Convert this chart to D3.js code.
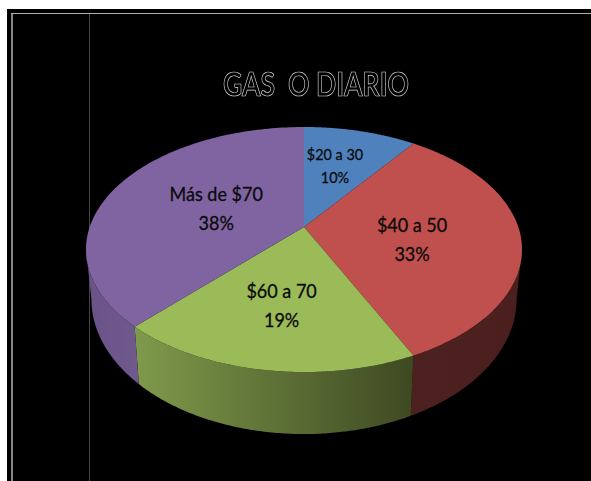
<!DOCTYPE html>
<html><head><meta charset="utf-8">
<script src="https://cdnjs.cloudflare.com/ajax/libs/d3/7.8.5/d3.min.js"></script>
<style>html,body{margin:0;padding:0;background:#fff}svg{display:block}</style>
</head><body><svg id="c" width="591" height="481"></svg>
<script>
const categories = ["$20 a 30", "$40 a 50", "$60 a 70", "Más de $70"];
const values = [10, 33, 19, 38];
const percentLabels = ["10%", "33%", "19%", "38%"];
const title = "GAS\u00A0\u00A0O DIARIO";
const topColors = ["#4f81bd", "#c0504d", "#9bbb59", "#8064a2"];
const sideFrom = ["#3f6690", "#4d2120", "#7f9a4b", "#6a5288"];
const sideTo = ["#3f6690", "#4b1f1e", "#3e4922", "#705a8c"];
const labelRadius = [0.59, 0.505, 0.596, 0.454];
const labelTurn = [-2.3, 6, 0, 0];
const labelSize = [16, 20, 20, 20];
const labelLeading = [23, 29, 29, 29];

const svg = d3.select("#c");
const cx = 304, cy = 227, a = 214.3, b = 118.4, k = 0.1837;
const baseCy = 274.5, baseX = 0.975, baseY = 1.1;

const project = (t, r = 1, base = false) => {
  const X = r * Math.sin(t), Y = -r * Math.cos(t), w = 1 - k * Y;
  return base ? [cx + baseX * a * X / w, baseCy + baseY * b * Y / w]
              : [cx + a * X / w, cy + b * Y / w];
};
const arcPts = (t0, t1, base = false) => d3.range(0, 121).map(i => project(t0 + (t1 - t0) * i / 120, 1, base));
const line = d3.line();

svg.append("rect").attr("x", 7).attr("y", 9).attr("width", 584).attr("height", 472).attr("fill", "#000");
svg.append("rect").attr("x", 11).attr("y", 13).attr("width", 2).attr("height", 468).attr("fill", "#858585");
svg.append("rect").attr("x", 11).attr("y", 13).attr("width", 580).attr("height", 1).attr("fill", "#b0b0b0");
svg.append("rect").attr("x", 89).attr("y", 14).attr("width", 1).attr("height", 467).attr("fill", "#444");

const arcs = d3.pie().sort(null).value(d => d)(values);
const edge = Math.asin(Math.sqrt(1 - k * k));
const rightEdge = Math.PI - edge;
const defs = svg.append("defs");
defs.append("filter").attr("id", "gray").attr("x", "-5%").attr("y", "-20%").attr("width", "110%").attr("height", "140%")
  .append("feColorMatrix").attr("type", "saturate").attr("values", 0);

arcs.forEach((d, i) => {
  const t0 = Math.max(d.startAngle, rightEdge), t1 = Math.min(d.endAngle, Math.PI + edge);
  if (t1 <= t0) return;
  const upper = arcPts(t0, t1), lower = arcPts(t0, t1, true).reverse();
  const xs = upper.concat(lower).map(p => p[0]);
  const g = defs.append("linearGradient").attr("id", "side" + i).attr("gradientUnits", "userSpaceOnUse")
    .attr("x1", d3.min(xs)).attr("x2", d3.max(xs)).attr("y1", 0).attr("y2", 0);
  g.append("stop").attr("offset", 0).attr("stop-color", sideFrom[i]);
  g.append("stop").attr("offset", 1).attr("stop-color", sideTo[i]);
  svg.append("path").attr("d", line(upper.concat(lower)) + "Z").attr("fill", `url(#side${i})`);
});

arcs.forEach((d, i) => {
  svg.append("path").attr("d", line([[cx, cy]].concat(arcPts(d.startAngle, d.endAngle))) + "Z").attr("fill", topColors[i]);
});

const squeeze = sel => sel.each(function () {
  this.setAttribute("textLength", this.getComputedTextLength() * 0.9);
  this.setAttribute("lengthAdjust", "spacingAndGlyphs");
});
arcs.forEach((d, i) => {
  const t = (d.startAngle + d.endAngle) / 2 + labelTurn[i] * Math.PI / 180;
  const [x, y] = project(t, labelRadius[i]);
  const g = svg.append("g").attr("font-family", "Lato, 'Open Sans', sans-serif").attr("font-size", labelSize[i])
    .attr("text-anchor", "middle").attr("fill", "#0a0a0a").attr("stroke", "#0a0a0a").attr("stroke-width", 0.3);
  g.append("text").attr("x", x).attr("y", y - labelLeading[i] * 0.5 + labelSize[i] * 0.36).text(categories[i]).call(squeeze);
  g.append("text").attr("x", x).attr("y", y + labelLeading[i] * 0.5 + labelSize[i] * 0.36).text(percentLabels[i]).call(squeeze);
});

svg.append("text").attr("x", 316).attr("y", 96).attr("text-anchor", "middle")
  .attr("font-family", "Lato, sans-serif").attr("font-weight", 700).attr("font-size", 33)
  .attr("textLength", 186).attr("lengthAdjust", "spacingAndGlyphs")
  .attr("fill", "#000").attr("stroke", "#d8d8d8").attr("stroke-width", 0.7).attr("filter", "url(#gray)")
  .text(title);
</script></body></html>
